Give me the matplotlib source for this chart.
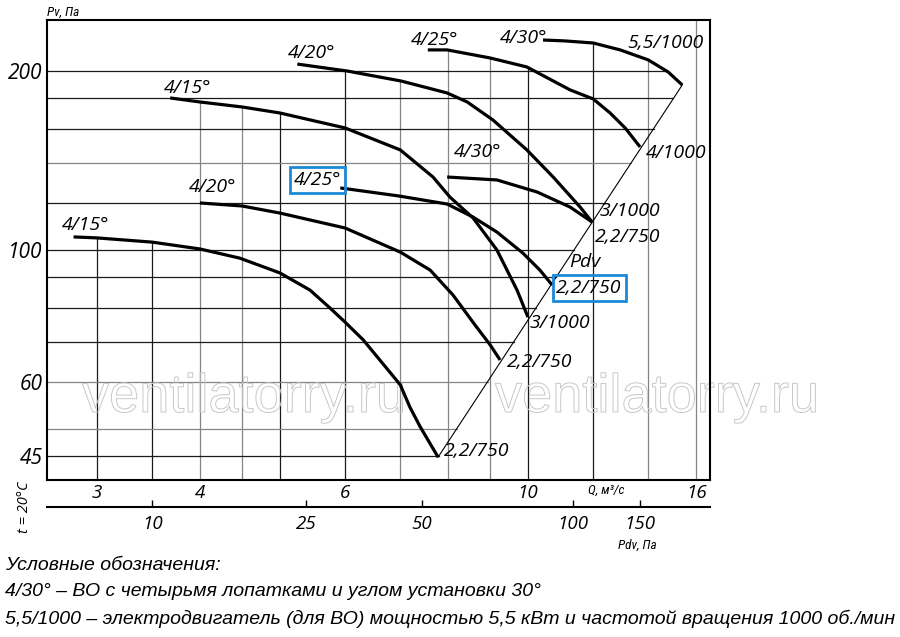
import numpy as np
import matplotlib
matplotlib.use("Agg")
import matplotlib.pyplot as plt
import matplotlib.patheffects as pe
from matplotlib import font_manager
from matplotlib.ticker import NullLocator, NullFormatter

# fan curves: Q in m3/s, Pv in Pa
q_lo15 = [2.81, 3.0, 3.5, 4.0, 4.47, 5.0, 5.44, 5.75, 6.0, 6.31, 6.61, 7.0, 7.19, 7.4, 7.78]
p_lo15 = [105.2, 104.8, 103.1, 100.4, 96.9, 91.5, 85.6, 79.9, 75.6, 70.6, 65.3, 59.3, 54.4, 50.4, 44.8]
q_lo20 = [4.0, 4.5, 5.0, 6.0, 7.0, 7.61, 8.11, 8.63, 9.0, 9.25]
p_lo20 = [120.0, 118.6, 115.4, 108.9, 99.2, 92.5, 84.0, 74.7, 69.2, 65.3]
q_lo25 = [5.92, 6.97, 7.98, 8.58, 9.17, 9.86, 10.34, 10.7]
p_lo25 = [127.2, 123.3, 119.5, 113.6, 107.2, 98.8, 92.5, 87.3]
q_mid30 = [7.98, 9.17, 10.26, 11.25, 11.96]
p_mid30 = [132.7, 131.2, 125.2, 118.1, 111.5]
q_up15 = [3.68, 4.0, 4.5, 5.0, 6.0, 7.0, 7.67, 8.04, 8.58, 9.17, 9.7, 10.0]
p_up15 = [180.3, 177.5, 174.1, 170.1, 160.5, 147.4, 132.7, 122.8, 113.2, 100.0, 85.6, 77.1]
q_up20 = [5.25, 6.04, 7.02, 7.98, 8.44, 9.07, 9.97, 10.73, 11.57, 11.96]
p_up20 = [205.6, 200.1, 192.5, 183.8, 177.5, 165.5, 147.4, 132.7, 118.1, 111.5]
q_up25 = [7.56, 7.98, 9.0, 9.97, 11.25, 12.0, 12.58, 13.12, 13.68]
p_up25 = [217.2, 217.2, 210.5, 203.3, 186.0, 179.6, 170.1, 160.5, 149.1]
q_up30 = [10.43, 11.09, 12.0, 12.94, 14.0, 14.8, 15.39]
p_up30 = [225.7, 224.9, 223.1, 217.2, 208.9, 199.3, 189.6]

angle_labels = ["4/15°", "4/20°", "4/25°", "4/30°", "4/15°", "4/20°", "4/25°", "4/30°"]
motor_labels = ["2,2/750", "2,2/750", "2,2/750", "3/1000", "3/1000", "2,2/750", "4/1000", "5,5/1000"]

q_ticks = [3, 4, 6, 10, 16]
p_ticks = [45, 60, 100, 200]
q_grid = [3, 3.5, 4, 4.5, 5, 6, 7, 8, 9, 10, 12, 14, 16]
q_grid_dark = [3, 3.5, 5, 6, 10, 12]
p_grid = [45, 50, 60, 70, 80, 90, 100, 120, 140, 160, 180, 200]
p_grid_gray = [50, 60, 140]
pdv_ticks = ["10", "25", "50", "100", "150"]
pdv_at_q = [3.5, 5.38, 7.44, 11.34, 13.68]

legend_lines = ["Условные обозначения:",
                "4/30° – ВО с четырьмя лопатками и углом установки 30°",
                "5,5/1000 – электродвигатель (для ВО) мощностью 5,5 кВт и частотой вращения 1000 об./мин"]

curves = [(q_lo15, p_lo15), (q_lo20, p_lo20), (q_lo25, p_lo25), (q_mid30, p_mid30),
          (q_up15, p_up15), (q_up20, p_up20), (q_up25, p_up25), (q_up30, p_up30)]

# label offsets in pixels (start label, end label)
start_off = [(12, 12), (13, 16), (-23, 8), (30, 25), (17, 10), (14, 11), (7, 10), (-19, 2)]
end_off = [(39, 6), (40, -2), (37, -3), (38, 11), (32, -6), (36, -15), (36, -6), (-17, 42)]
boxed_start = 2
boxed_end = 2

BLUE = "#1c8ad6"
lab_font = dict(family=["Open Sans", "DejaVu Sans"], style="italic")
legend_font = dict(family=["Liberation Sans", "DejaVu Sans"], style="italic")

# pick a narrow face for the small axis captions if one is around
names = {f.name for f in font_manager.fontManager.ttflist}
narrow_fam = [n for n in ["Liberation Sans Narrow", "Roboto Condensed", "DejaVu Sans Condensed",
                          "Open Sans Condensed"] if n in names]
narrow = dict(family=narrow_fam + ["Liberation Sans", "DejaVu Sans"], style="italic")

fig = plt.figure(figsize=(9, 6.37), dpi=100)
ax = fig.add_axes([47 / 900, 1 - 480 / 637, 663 / 900, 460 / 637])
ax.set_xscale("log")
ax.set_yscale("log")
ax.set_xlim(2.609, 16.63)
ax.set_ylim(41.0, 243.9)


def envelope(q):
    top = None
    for qs, ps in curves:
        if qs[0] <= q <= qs[-1]:
            v = 10 ** np.interp(np.log10(q), np.log10(qs), np.log10(ps))
            top = v if top is None else max(top, v)
    return top


# Pdv line through the two outer curve ends
d_q = [q_lo15[-1], q_up30[-1]]
d_p = [p_lo15[-1], p_up30[-1]]


def diag_q(p):
    if p <= d_p[1]:
        lq = np.interp(np.log10(p), np.log10(d_p), np.log10(d_q))
    else:
        lq = np.interp(np.log10(p), np.log10(p_up30[::-1]), np.log10(q_up30[::-1]))
    return 10 ** lq


ylo, yhi = ax.get_ylim()
for q in q_grid:
    top = envelope(q)
    if top is None:
        top = yhi
    c = "#1a1a1a" if q in q_grid_dark else "#858585"
    ax.plot([q, q], [ylo, top], color=c, lw=0.9, zorder=1)

xlo = ax.get_xlim()[0]
for p in p_grid:
    c = "#858585" if p in p_grid_gray else "#1a1a1a"
    ax.plot([xlo, diag_q(p)], [p, p], color=c, lw=0.9, zorder=1)

ax.plot(d_q, d_p, color="black", lw=0.8, zorder=2)

for i, (qs, ps) in enumerate(curves):
    ax.plot(qs, ps, color="black", lw=2.3, solid_capstyle="butt", solid_joinstyle="round", zorder=3)
    bb = None
    if i == boxed_start:
        bb = dict(boxstyle="square,pad=0.2", fc="none", ec=BLUE, lw=2)
    ax.annotate(angle_labels[i], (qs[0], ps[0]), xytext=start_off[i],
                textcoords="offset pixels", ha="center", va="center",
                fontsize=14, bbox=bb, zorder=4, **lab_font)
    bb = None
    if i == boxed_end:
        bb = dict(boxstyle="square,pad=0.2", fc="none", ec=BLUE, lw=2)
    ax.annotate(motor_labels[i], (qs[-1], ps[-1]), xytext=end_off[i],
                textcoords="offset pixels", ha="center", va="center",
                fontsize=14, bbox=bb, zorder=4, **lab_font)

ax.annotate("Pdv", (q_lo25[-1], p_lo25[-1]), xytext=(33, 23), textcoords="offset pixels",
            ha="center", va="center", fontsize=14, **lab_font)

ax.set_xticks(q_ticks, [str(v) for v in q_ticks])
ax.set_yticks(p_ticks, [str(v) for v in p_ticks])
ax.xaxis.set_minor_locator(NullLocator())
ax.yaxis.set_minor_locator(NullLocator())
ax.tick_params(axis="x", length=0, labelsize=13.5, pad=3)
ax.tick_params(axis="y", length=0, labelsize=15, pad=3)
for t in ax.get_xticklabels() + ax.get_yticklabels():
    t.set_fontfamily(lab_font["family"])
    t.set_fontstyle("italic")
for s in ax.spines.values():
    s.set_linewidth(1.5)

sec = ax.secondary_xaxis(-0.0587)
sec.set_xticks(pdv_at_q, pdv_ticks)
sec.xaxis.set_minor_locator(NullLocator())
sec.xaxis.set_minor_formatter(NullFormatter())
sec.tick_params(direction="in", length=5, width=1, labelsize=13.5, pad=6)
sec.spines["bottom"].set_linewidth(1.5)
for t in sec.get_xticklabels():
    t.set_fontfamily(lab_font["family"])
    t.set_fontstyle("italic")

# watermark, outline only, under the curves
for cx in (244, 657):
    ax.text(cx / 900, 1 - 398 / 637, "ventilatorry.ru", transform=fig.transFigure,
            ha="center", va="center", fontsize=39, family="Liberation Sans",
            color=(1, 1, 1, 0), zorder=2.5, clip_on=False,
            path_effects=[pe.Stroke(linewidth=0.7, foreground="#c8c8c8")])

fig.text(47 / 900, 1 - 12 / 637, "Pv, Па", ha="left", va="center", fontsize=9.5, **narrow)
fig.text(606 / 900, 1 - 490 / 637, "Q, м³/с", ha="center", va="center", fontsize=9.5, **narrow)
fig.text(637 / 900, 1 - 545 / 637, "Pdv, Па", ha="center", va="center", fontsize=9.5, **narrow)
fig.text(25 / 900, 1 - 507 / 637, "t = 20°C", ha="center", va="center", rotation=90,
         fontsize=10.5, **lab_font)

for line, y in zip(legend_lines, [565, 592, 619]):
    fig.text(5 / 900, 1 - y / 637, line, ha="left", va="center", fontsize=14, **legend_font)

fig.savefig("out.png", dpi=100)
